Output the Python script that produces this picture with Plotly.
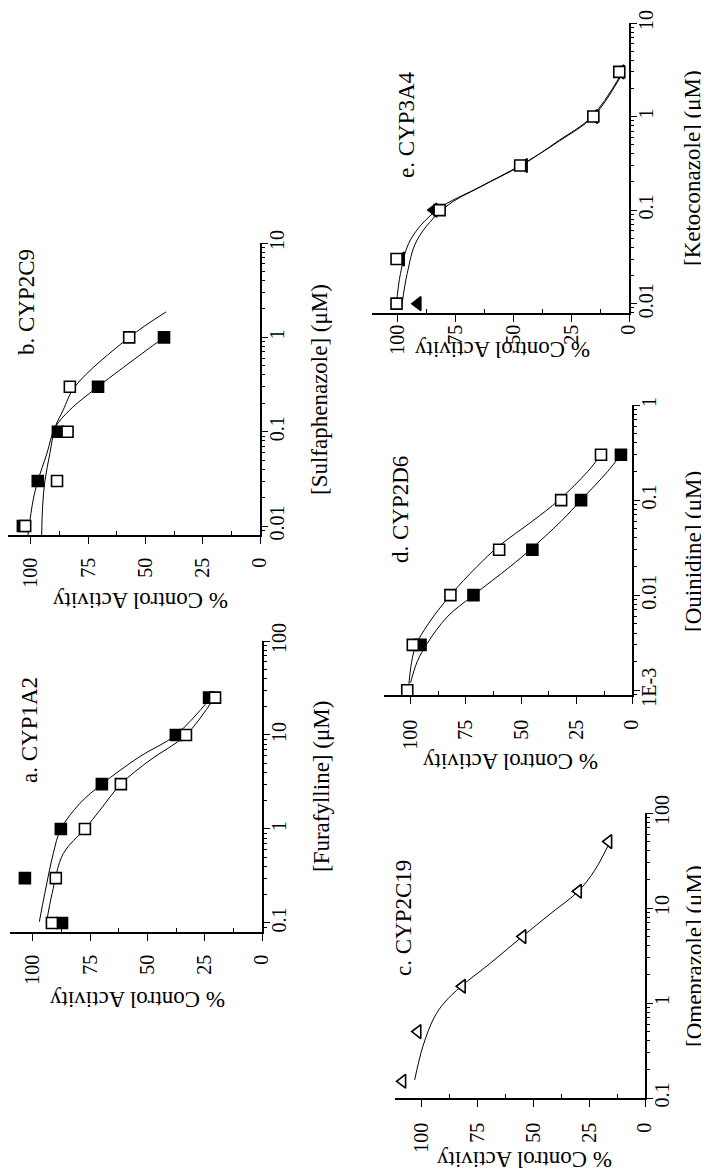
import math
import plotly.graph_objects as go

W, H = 709, 1174
PAGE_MARGIN = 8          # browser default body margin: the figure starts 8 px in
FONT = "Liberation Serif"

# ---------------- data ----------------
# a. CYP1A2  (Furafylline)
a_conc = [0.1, 0.3, 1, 3, 10, 25]
a_filled = [87.3, 103.5, 87.8, 69.9, 37.6, 23.1]
a_open = [91.7, 90.0, 77.3, 61.6, 33.2, 20.5]
a_fc_conc = [0.103, 0.207, 0.55, 1.0, 1.87, 3.0, 5.9, 10, 25.5]
a_fc_val = [97.2, 94.8, 91.1, 87.8, 79.5, 69.9, 53.3, 37.6, 22.0]
a_oc_conc = [0.103, 0.207, 0.55, 1.0, 1.59, 3.0, 5.4, 10, 25.5]
a_oc_val = [94.0, 91.6, 86.7, 77.3, 70.7, 61.6, 48.9, 33.2, 20.5]

# b. CYP2C9  (Sulfaphenazole)
b_conc = [0.01, 0.03, 0.1, 0.3, 1]
b_filled = [103.5, 97.0, 88.2, 70.7, 41.9]
b_open = [102.5, 88.6, 84.0, 83.0, 57.1]
b_fc_conc = [0.008, 0.019, 0.03, 0.059, 0.11, 0.17, 0.3, 1.0]
b_fc_val = [101.3, 99.0, 97.0, 93.0, 89.5, 83.0, 70.7, 41.9]
b_oc_conc = [0.008, 0.016, 0.03, 0.059, 0.11, 0.17, 0.3, 1.0, 1.86]
b_oc_val = [95.3, 94.9, 93.9, 91.7, 89.5, 85.9, 80.8, 57.1, 41.0]

# c. CYP2C19  (Omeprazole)
c_conc = [0.15, 0.5, 1.5, 5, 15, 50]
c_open = [108.6, 101.8, 81.9, 54.8, 29.9, 16.3]
c_curve_conc = [0.155, 0.35, 0.7, 1.0, 1.5, 2.6, 5, 8.8, 15, 25, 46]
c_curve_val = [103.2, 99.5, 94.5, 90.0, 82.3, 69.5, 55.0, 42.1, 29.9, 22.5, 16.4]

# d. CYP2D6  (Quinidine)
d_conc_open = [0.001, 0.003, 0.01, 0.03, 0.1, 0.3]
d_open = [101.5, 99.0, 82.0, 60.0, 32.0, 14.0]
d_conc_filled = [0.003, 0.01, 0.03, 0.1, 0.3]
d_filled = [95.5, 71.6, 45.0, 23.0, 5.0]
d_oc_conc = [0.001, 0.002, 0.003, 0.005, 0.01, 0.02, 0.033, 0.06, 0.1, 0.2, 0.3]
d_oc_val = [101.0, 99.5, 97.5, 92.0, 82.0, 70.0, 60.0, 45.0, 33.0, 20.0, 14.0]
d_fc_conc = [0.0012, 0.002, 0.0031, 0.0059, 0.01, 0.02, 0.03, 0.06, 0.1, 0.2, 0.3]
d_fc_val = [100.0, 97.0, 92.5, 83.5, 71.6, 55.0, 46.0, 32.0, 23.0, 11.0, 5.0]

# e. CYP3A4  (Ketoconazole)
e_conc = [0.01, 0.03, 0.1, 0.3, 1, 3]
e_open = [100.4, 100.4, 81.8, 47.0, 15.4, 4.2]
e_filled = [91.2, 98.4, 84.3, 45.3, 15.0, 3.5]
e_oc_conc = [0.01, 0.021, 0.048, 0.1, 0.178, 0.3, 0.55, 1.0, 2.6]
e_oc_val = [100.4, 98.7, 94.4, 83.0, 64.2, 47.0, 30.0, 15.4, 3.9]
e_fc_conc = [0.01, 0.021, 0.048, 0.108, 0.178, 0.3, 0.55, 1.0, 2.8]
e_fc_val = [98.0, 95.8, 91.5, 79.3, 64.0, 46.5, 30.5, 16.0, 3.5]

value_ticks = [0, 25, 50, 75, 100]
value_minor = [12.5, 37.5, 62.5, 87.5]

# layout (screen pixels of the 709x1174 window)
panels = [
    dict(title="a. CYP1A2", xtitle="[Furafylline] (μM)",
         ticks=[0.1, 1, 10, 100], ticktext=["0.1", "1", "10", "100"],
         series=[("filled", a_conc, a_filled, "square"), ("open", a_conc, a_open, "square")],
         curves=[(a_fc_conc, a_fc_val), (a_oc_conc, a_oc_val)],
         px=(10, 262), py=(641, 932), vr=110, lr=(-1.096, 2.0),
         t=(29, 730), ct=(321, 787), vt=(137, 1000), stand=6),
    dict(title="b. CYP2C9", xtitle="[Sulfaphenazole] (μM)",
         ticks=[0.01, 0.1, 1, 10], ticktext=["0.01", "0.1", "1", "10"],
         series=[("filled", b_conc, b_filled, "square"), ("open", b_conc, b_open, "square")],
         curves=[(b_fc_conc, b_fc_val), (b_oc_conc, b_oc_val)],
         px=(8, 260), py=(243, 535), vr=110, lr=(-2.095, 1.0),
         t=(27, 302), ct=(320, 390), vt=(140, 600), stand=6),
    dict(title="c. CYP2C19", xtitle="[Omeprazole] (μM)",
         ticks=[0.1, 1, 10, 100], ticktext=["0.1", "1", "10", "100"],
         series=[("open", c_conc, c_open, "triangle-left")],
         curves=[(c_curve_conc, c_curve_val)],
         px=(395, 645), py=(813, 1098), vr=112, lr=(-1.0, 2.0),
         t=(403, 918), ct=(694, 956), vt=(524, 1160), stand=8),
    dict(title="d. CYP2D6", xtitle="[Quinidine] (μM)",
         ticks=[0.001, 0.01, 0.1, 1], ticktext=["1E-3", "0.01", "0.1", "1"],
         series=[("filled", d_conc_filled, d_filled, "square"), ("open", d_conc_open, d_open, "square")],
         curves=[(d_fc_conc, d_fc_val), (d_oc_conc, d_oc_val)],
         px=(384, 632), py=(405, 695), vr=112, lr=(-3.05, 0.0),
         t=(400, 510), ct=(693, 552), vt=(510, 762), stand=8),
    dict(title="e. CYP3A4", xtitle="[Ketoconazole] (μM)",
         ticks=[0.01, 0.1, 1, 10], ticktext=["0.01", "0.1", "1", "10"],
         series=[("filled", e_conc, e_filled, "triangle-left"), ("open", e_conc, e_open, "square")],
         curves=[(e_fc_conc, e_fc_val), (e_oc_conc, e_oc_val)],
         px=(372, 629), py=(23, 313), vr=111, lr=(-2.1, 1.0),
         t=(406, 125), ct=(692, 168), vt=(502, 350), stand=-5),
]


def fx(sx):
    return max(0.0, min(1.0, (sx - PAGE_MARGIN) / W))


def fy(sy):
    return max(0.0, min(1.0, 1 - (sy - PAGE_MARGIN) / H))


def ann(text, pos, angle):
    return dict(text=text, x=fx(pos[0]), y=fy(pos[1]), xref="paper", yref="paper",
                xanchor="center", yanchor="middle", showarrow=False, textangle=angle,
                font=dict(family=FONT, size=23, color="black"))


fig = go.Figure()
annotations = []

for i, p in enumerate(panels, start=1):
    xa = "x" if i == 1 else f"x{i}"
    ya = "y" if i == 1 else f"y{i}"
    for cx, cy in p["curves"]:
        fig.add_trace(go.Scatter(x=cy, y=cx, mode="lines", xaxis=xa, yaxis=ya,
                                 line=dict(color="black", width=1, shape="spline", smoothing=1.0),
                                 hoverinfo="skip"))
    for kind, cx, cy, sym in p["series"]:
        filled = kind == "filled"
        fig.add_trace(go.Scatter(
            x=cy, y=cx, mode="markers", xaxis=xa, yaxis=ya,
            marker=dict(symbol=sym, size=12 if sym.startswith("tri") else 11,
                        color="black" if filled else "white",
                        line=dict(color="black", width=1.6))))
    lo, hi = p["lr"]
    minor_vals = []
    for k in range(math.floor(lo), math.ceil(hi) + 1):
        for m in range(2, 10):
            v = m * 10 ** k
            if lo <= math.log10(v) <= hi:
                minor_vals.append(v)
    xkey = "xaxis" if i == 1 else f"xaxis{i}"
    ykey = "yaxis" if i == 1 else f"yaxis{i}"
    fig.layout[xkey] = dict(
        domain=[fx(p["px"][0]), fx(p["px"][1])], range=[p["vr"], 0], anchor=ya,
        automargin=False,
        showline=True, linecolor="black", linewidth=1.6, ticks="outside", ticklen=7,
        tickwidth=1.4, tickcolor="black", tickvals=value_ticks, tickangle=-90,
        ticklabelstandoff=p["stand"],
        tickfont=dict(family=FONT, size=20, color="black"), showgrid=False, zeroline=False,
        minor=dict(tickvals=value_minor, ticks="inside", ticklen=4, tickwidth=1.2,
                   tickcolor="black", showgrid=False),
        fixedrange=True)
    fig.layout[ykey] = dict(
        type="log", domain=[fy(p["py"][1]), fy(p["py"][0])], range=[lo, hi],
        anchor=xa, side="right", automargin=False,
        showline=True, linecolor="black", linewidth=1.6,
        ticks="outside", ticklen=6, tickwidth=1.4, tickcolor="black",
        tickvals=p["ticks"], ticktext=p["ticktext"], tickangle=-90, ticklabelstandoff=-8,
        tickfont=dict(family=FONT, size=20, color="black"), showgrid=False, zeroline=False,
        minor=dict(tickvals=minor_vals, ticks="outside", ticklen=3, tickwidth=1,
                   tickcolor="black", showgrid=False),
        fixedrange=True)
    annotations.append(ann(p["title"], p["t"], -90))
    annotations.append(ann(p["xtitle"], p["ct"], -90))
    annotations.append(ann("% Control Activity", p["vt"], 180))

fig.update_layout(width=W, height=H, margin=dict(l=0, r=0, t=0, b=0, autoexpand=False),
                  paper_bgcolor="white", plot_bgcolor="white", showlegend=False,
                  annotations=annotations)
fig.write_html("out.html")
